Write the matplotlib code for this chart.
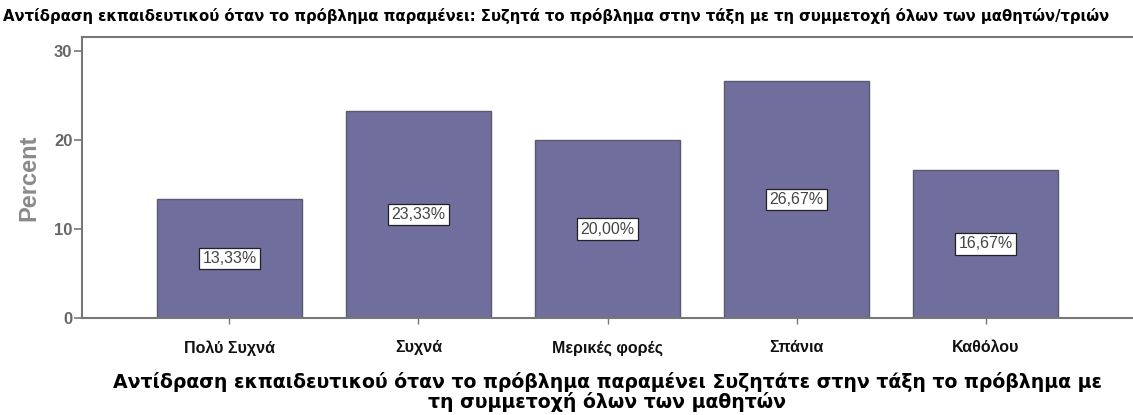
import matplotlib
matplotlib.use("Agg")
import matplotlib.pyplot as plt

categories = ["Πολύ Συχνά", "Συχνά", "Μερικές φορές", "Σπάνια", "Καθόλου"]
values = [13.33, 23.33, 20.00, 26.67, 16.67]
labels = ["13,33%", "23,33%", "20,00%", "26,67%", "16,67%"]
yticks = [0, 10, 20, 30]

title = "Αντίδραση εκπαιδευτικού όταν το πρόβλημα παραμένει: Συζητά το πρόβλημα στην τάξη με τη συμμετοχή όλων των μαθητών/τριών"
xlabel = "Αντίδραση εκπαιδευτικού όταν το πρόβλημα παραμένει Συζητάτε στην τάξη το πρόβλημα με\nτη συμμετοχή όλων των μαθητών"

plt.rcParams['font.family'] = ['Liberation Sans', 'DejaVu Sans']

fig = plt.figure(figsize=(11.33, 4.15), dpi=100)
ax = fig.add_axes([82/1133, 1-318/415, 1-82/1133, (318-37)/415])

x = list(range(len(categories)))
bars = ax.bar(x, values, width=0.77, color="#6f6e9c", edgecolor="#5a5a6e", linewidth=1.0, zorder=2)
for xi, v, lab in zip(x, values, labels):
    ax.text(xi, v/2, lab, ha="center", va="center", fontsize=11.5, color="#444444",
            bbox=dict(boxstyle="square,pad=0.2", fc="white", ec="#222222", lw=0.9), zorder=3)

ax.set_xlim(-0.78, 4.78)
ax.set_ylim(0, 31.6)
ax.set_yticks(yticks)
ax.set_yticklabels([str(t) for t in yticks], fontsize=12, color="#666666", fontweight="bold")
ax.set_xticks(x)
ax.set_xticklabels(categories, fontsize=11.5, fontweight="bold", color="#111111")
ax.tick_params(axis="y", length=6, width=1.2, color="#777777", pad=1)
ax.tick_params(axis="x", length=4, width=1.0, color="#777777", pad=12)
for s in ["left", "bottom", "top"]:
    ax.spines[s].set_color("#777777")
    ax.spines[s].set_linewidth(1.5)
ax.spines["right"].set_visible(False)

ax.set_ylabel("Percent", fontsize=17, fontweight="bold", color="#8a8a8a", labelpad=10)
ax.set_xlabel(xlabel, fontsize=13.6, fontweight="bold", color="#000000", labelpad=11.5,
              linespacing=1.0, family=["DejaVu Sans"])
fig.text(0.003, 0.962, title, fontsize=10.7, fontweight="bold", ha="left", va="center",
         family=["DejaVu Sans"])

fig.savefig("out.png", dpi=100)
